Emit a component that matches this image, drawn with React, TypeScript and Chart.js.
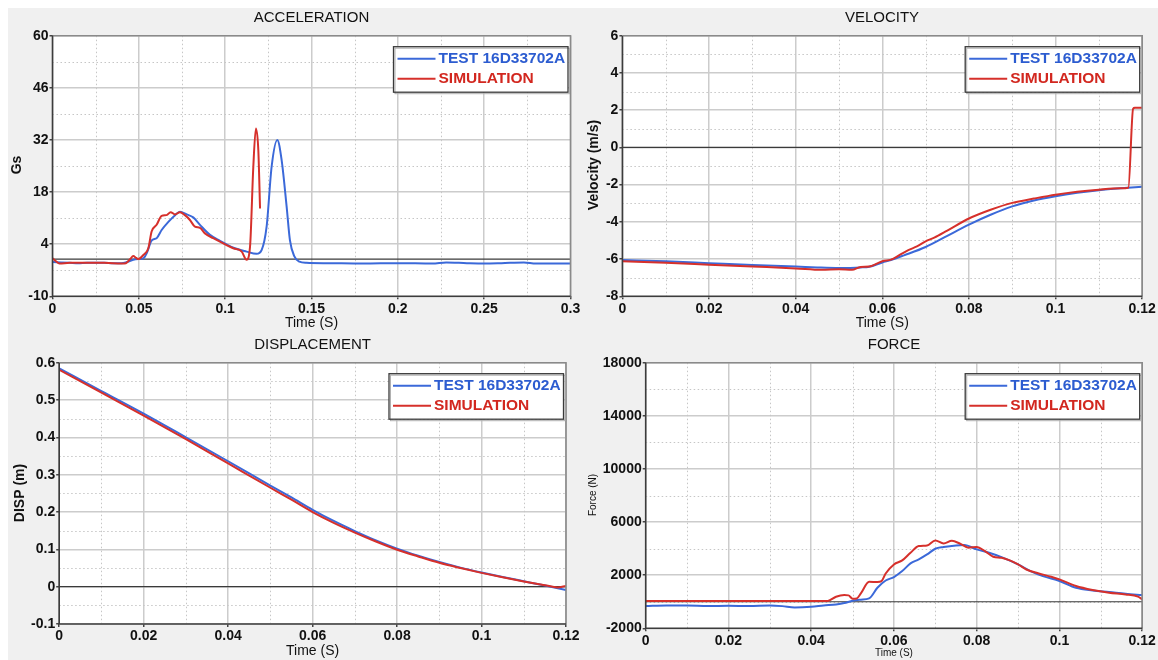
import React, { useEffect, useRef } from "react";
import { Chart, registerables } from "chart.js";

Chart.register(...registerables);

const FONT = '"Liberation Sans", Arial, Helvetica, sans-serif';
const BLUE = "#3b69d9";
const RED = "#d6302b";
const BLUE_TEXT = "#2c5cd0";
const RED_TEXT = "#d2271f";

const legendLabels = ["TEST 16D33702A", "SIMULATION"];

// ---------------- ACCELERATION ----------------
const accelTestT = [0, 0.005, 0.01, 0.015, 0.02, 0.025, 0.03, 0.035, 0.04, 0.043, 0.0468, 0.05, 0.0526, 0.0546, 0.0574, 0.0603, 0.0632, 0.0671, 0.071, 0.0738, 0.0777, 0.0815, 0.0854, 0.0912, 0.097, 0.1044, 0.1124, 0.1182, 0.1211, 0.124, 0.1269, 0.1302, 0.1327, 0.1356, 0.1375, 0.14, 0.143, 0.147, 0.16, 0.18, 0.2, 0.22, 0.228, 0.24, 0.25, 0.26, 0.273, 0.28, 0.3];
const accelTestG = [-0.8, -0.9, -1.0, -1.1, -1.0, -1.0, -1.0, -1.1, -1.1, -0.8, -0.2, 0.0, 0.2, 1.6, 5.0, 5.6, 7.8, 10.0, 11.8, 12.7, 12.0, 11.2, 9.2, 6.5, 4.9, 3.1, 2.0, 1.4, 2.4, 8.7, 24.8, 32.0, 26.6, 14.1, 5.1, 0.8, -0.7, -1.0, -1.1, -1.2, -1.1, -1.2, -0.9, -1.1, -1.2, -1.1, -0.9, -1.2, -1.2];
const accelSimT = [0, 0.002, 0.004, 0.01, 0.02, 0.03, 0.04, 0.0425, 0.045, 0.0468, 0.0485, 0.0497, 0.0526, 0.0555, 0.0574, 0.0603, 0.0632, 0.0661, 0.0684, 0.071, 0.0738, 0.0767, 0.0796, 0.0825, 0.0854, 0.0883, 0.0931, 0.0989, 0.1047, 0.1096, 0.1124, 0.1144, 0.1163, 0.1178, 0.1192, 0.1202];
const accelSimG = [0.2, -0.6, -1.2, -1.0, -1.0, -1.0, -1.2, -1.1, 0.0, 0.8, 0.3, 0.0, 1.1, 2.9, 7.4, 9.2, 11.6, 11.8, 12.6, 12.0, 12.6, 11.8, 10.5, 8.7, 8.4, 6.9, 5.6, 4.2, 2.9, 2.0, -0.2, 3.3, 24.8, 35.1, 29.3, 13.6];

// ---------------- VELOCITY ----------------
const velTestT = [0, 0.01, 0.02, 0.03, 0.04, 0.045, 0.05, 0.055, 0.057, 0.06, 0.062, 0.065, 0.07, 0.075, 0.08, 0.085, 0.09, 0.095, 0.1, 0.105, 0.11, 0.115, 0.12];
const velTestV = [-6.05, -6.12, -6.22, -6.32, -6.4, -6.45, -6.48, -6.45, -6.41, -6.18, -6.05, -5.8, -5.35, -4.75, -4.15, -3.62, -3.17, -2.85, -2.62, -2.44, -2.3, -2.2, -2.12];
const velSimT = [0, 0.01, 0.02, 0.03, 0.04, 0.046, 0.05, 0.053, 0.055, 0.057, 0.06, 0.062, 0.064, 0.066, 0.068, 0.07, 0.072, 0.075, 0.08, 0.085, 0.09, 0.095, 0.1, 0.105, 0.11, 0.115, 0.1168, 0.1179, 0.1183, 0.12];
const velSimV = [-6.12, -6.2, -6.3, -6.4, -6.5, -6.58, -6.55, -6.58, -6.42, -6.4, -6.12, -6.03, -5.78, -5.52, -5.32, -5.05, -4.85, -4.47, -3.82, -3.35, -2.98, -2.75, -2.54, -2.38, -2.27, -2.2, -2.17, 2.08, 2.13, 2.13];

// ---------------- DISPLACEMENT ----------------
const dispTestT = [0, 0.01, 0.02, 0.03, 0.04, 0.05, 0.055, 0.06, 0.065, 0.07, 0.075, 0.08, 0.085, 0.09, 0.095, 0.1, 0.105, 0.11, 0.115, 0.12];
const dispTestM = [0.585, 0.524, 0.4635, 0.4, 0.336, 0.271, 0.239, 0.206, 0.176, 0.149, 0.124, 0.102, 0.083, 0.066, 0.051, 0.038, 0.026, 0.0145, 0.003, -0.009];
const dispSimT = [0, 0.01, 0.02, 0.03, 0.04, 0.05, 0.055, 0.06, 0.065, 0.07, 0.075, 0.08, 0.085, 0.09, 0.095, 0.1, 0.105, 0.11, 0.115, 0.118, 0.12];
const dispSimM = [0.581, 0.52, 0.458, 0.395, 0.33, 0.265, 0.233, 0.2, 0.171, 0.145, 0.121, 0.099, 0.081, 0.064, 0.05, 0.037, 0.025, 0.014, 0.004, -0.002, 0.002];

// ---------------- FORCE ----------------
const forceTestT = [0, 0.005, 0.01, 0.015, 0.02, 0.025, 0.03, 0.033, 0.036, 0.04, 0.043, 0.046, 0.048, 0.05, 0.052, 0.054, 0.056, 0.058, 0.06, 0.062, 0.064, 0.066, 0.068, 0.07, 0.072, 0.075, 0.077, 0.08, 0.083, 0.086, 0.09, 0.093, 0.096, 0.1, 0.104, 0.108, 0.112, 0.116, 0.12];
const forceTestN = [-330, -280, -280, -330, -300, -330, -280, -330, -430, -380, -280, -200, -100, 75, 150, 250, 1050, 1600, 1860, 2310, 2890, 3190, 3560, 3990, 4120, 4240, 4270, 3940, 3690, 3360, 2810, 2310, 1930, 1560, 1050, 850, 730, 600, 500];
const forceSimT = [0, 0.044, 0.046, 0.048, 0.049, 0.05, 0.051, 0.052, 0.054, 0.056, 0.057, 0.058, 0.06, 0.062, 0.064, 0.066, 0.068, 0.07, 0.072, 0.074, 0.076, 0.078, 0.08, 0.082, 0.084, 0.086, 0.088, 0.09, 0.092, 0.095, 0.098, 0.1, 0.104, 0.108, 0.112, 0.116, 0.119, 0.12];
const forceSimN = [60, 60, 380, 500, 480, 230, 250, 630, 1500, 1480, 1550, 2130, 2810, 3110, 3690, 4190, 4240, 4620, 4390, 4590, 4370, 4070, 4120, 3810, 3390, 3310, 3110, 2810, 2430, 2130, 1880, 1680, 1180, 880, 680, 550, 380, 180];

type Panel = {
  title: string;
  titleX: number;
  titleY: number;
  xLabel: string;
  xLabelY: number;
  xLabelSize: number;
  yLabel: string;
  yLabelX: number;
  yLabelY: number;
  yLabelFont: string;
  plot: { l: number; r: number; t: number; b: number };
  xMin: number; xMax: number; xStep: number;
  yMin: number; yMax: number; yStep: number;
  testT: number[]; testV: number[];
  simT: number[]; simV: number[];
};

const panels: Panel[] = [
  {
    title: "ACCELERATION", titleX: 311.5, titleY: 18,
    xLabel: "Time (S)", xLabelY: 323, xLabelSize: 14,
    yLabel: "Gs", yLabelX: 17, yLabelY: 165, yLabelFont: `bold 14px ${FONT}`,
    plot: { l: 52.5, r: 570.5, t: 35.7, b: 296.3 },
    xMin: 0, xMax: 0.3, xStep: 0.05, yMin: -10, yMax: 60, yStep: 14,
    testT: accelTestT, testV: accelTestG, simT: accelSimT, simV: accelSimG,
  },
  {
    title: "VELOCITY", titleX: 882, titleY: 18,
    xLabel: "Time (S)", xLabelY: 323, xLabelSize: 14,
    yLabel: "Velocity (m/s)", yLabelX: 594.6, yLabelY: 165, yLabelFont: `bold 14px ${FONT}`,
    plot: { l: 622.4, r: 1142.2, t: 35.7, b: 296.3 },
    xMin: 0, xMax: 0.12, xStep: 0.02, yMin: -8, yMax: 6, yStep: 2,
    testT: velTestT, testV: velTestV, simT: velSimT, simV: velSimV,
  },
  {
    title: "DISPLACEMENT", titleX: 312.6, titleY: 345,
    xLabel: "Time (S)", xLabelY: 651.5, xLabelSize: 14,
    yLabel: "DISP (m)", yLabelX: 20, yLabelY: 493, yLabelFont: `bold 14px ${FONT}`,
    plot: { l: 59.2, r: 566, t: 362.7, b: 624 },
    xMin: 0, xMax: 0.12, xStep: 0.02, yMin: -0.1, yMax: 0.6, yStep: 0.1,
    testT: dispTestT, testV: dispTestM, simT: dispSimT, simV: dispSimM,
  },
  {
    title: "FORCE", titleX: 894, titleY: 345,
    xLabel: "Time (S)", xLabelY: 653, xLabelSize: 10,
    yLabel: "Force (N)", yLabelX: 593, yLabelY: 495, yLabelFont: `10px ${FONT}`,
    plot: { l: 645.7, r: 1142.2, t: 362.7, b: 628.3 },
    xMin: 0, xMax: 0.12, xStep: 0.02, yMin: -2000, yMax: 18000, yStep: 4000,
    testT: forceTestT, testV: forceTestN, simT: forceSimT, simV: forceSimN,
  },
];

const W = 1158;
const H = 660;
const Y_AXIS_W = 44;
const X_AXIS_H = 22;

function fmt(v: number | string) {
  const n = Number(v);
  return String(parseFloat(n.toFixed(6)));
}

function decoPlugin(p: Panel) {
  return {
    id: "deco",
    beforeDraw(chart: any) {
      const { ctx, chartArea: a } = chart;
      ctx.save();
      ctx.fillStyle = "#ffffff";
      ctx.fillRect(a.left, a.top, a.right - a.left, a.bottom - a.top);
      ctx.restore();
    },
    beforeDatasetsDraw(chart: any) {
      const { ctx, chartArea: a } = chart;
      const xs = chart.scales.x;
      const ys = chart.scales.y;
      ctx.save();
      ctx.strokeStyle = "#c6c6c6";
      ctx.lineWidth = 1;
      ctx.setLineDash([1.5, 2.5]);
      const xMinor = p.xStep / 2;
      const nx = Math.round((p.xMax - p.xMin) / xMinor);
      for (let i = 1; i < nx; i += 2) {
        const px = Math.round(xs.getPixelForValue(p.xMin + i * xMinor)) + 0.5;
        ctx.beginPath();
        ctx.moveTo(px, a.top);
        ctx.lineTo(px, a.bottom);
        ctx.stroke();
      }
      const yMinor = p.yStep / 2;
      const ny = Math.round((p.yMax - p.yMin) / yMinor);
      for (let i = 1; i < ny; i += 2) {
        const py = Math.round(ys.getPixelForValue(p.yMin + i * yMinor)) + 0.5;
        ctx.beginPath();
        ctx.moveTo(a.left, py);
        ctx.lineTo(a.right, py);
        ctx.stroke();
      }
      ctx.setLineDash([]);
      // zero line
      const zy = ys.getPixelForValue(0);
      ctx.strokeStyle = "#3a3a3a";
      ctx.lineWidth = 1.2;
      ctx.beginPath();
      ctx.moveTo(a.left, zy);
      ctx.lineTo(a.right, zy);
      ctx.stroke();
      ctx.restore();
    },
    afterDraw(chart: any) {
      const { ctx, chartArea: a } = chart;
      ctx.save();
      // plot border
      ctx.lineWidth = 1.6;
      ctx.strokeStyle = "#8a8a8a";
      ctx.beginPath();
      ctx.moveTo(a.left, a.top);
      ctx.lineTo(a.right, a.top);
      ctx.lineTo(a.right, a.bottom);
      ctx.stroke();
      ctx.strokeStyle = "#3c3c3c";
      ctx.beginPath();
      ctx.moveTo(a.left, a.top);
      ctx.lineTo(a.left, a.bottom);
      ctx.lineTo(a.right, a.bottom);
      ctx.stroke();

      // legend
      const bw = 174.5;
      const bh = 45.5;
      const bx = a.right - 2.5 - bw;
      const by = a.top + 11;
      ctx.fillStyle = "#ffffff";
      ctx.fillRect(bx, by, bw, bh);
      ctx.strokeStyle = "#b0b0b0";
      ctx.lineWidth = 1;
      ctx.strokeRect(bx + 1.5, by + 1.5, bw, bh);
      ctx.strokeStyle = "#3a3a3a";
      ctx.lineWidth = 1.3;
      ctx.strokeRect(bx, by, bw, bh);
      const rows = [
        { c: BLUE, tc: BLUE_TEXT, y: by + 12 },
        { c: RED, tc: RED_TEXT, y: by + 32 },
      ];
      rows.forEach((r, i) => {
        ctx.strokeStyle = r.c;
        ctx.lineWidth = 2;
        ctx.beginPath();
        ctx.moveTo(bx + 4, r.y);
        ctx.lineTo(bx + 42, r.y);
        ctx.stroke();
        ctx.fillStyle = r.tc;
        ctx.font = `bold 15.5px ${FONT}`;
        ctx.textAlign = "left";
        ctx.textBaseline = "middle";
        ctx.fillText(legendLabels[i], bx + 45, r.y + 0.5);
      });

      // title
      ctx.fillStyle = "#111111";
      ctx.font = `15px ${FONT}`;
      ctx.textAlign = "center";
      ctx.textBaseline = "middle";
      ctx.fillText(p.title, p.titleX, p.titleY);
      // x label
      ctx.font = `${p.xLabelSize}px ${FONT}`;
      ctx.fillText(p.xLabel, (a.left + a.right) / 2, p.xLabelY);
      // y label
      ctx.save();
      ctx.translate(p.yLabelX, p.yLabelY);
      ctx.rotate(-Math.PI / 2);
      ctx.font = p.yLabelFont;
      ctx.fillText(p.yLabel, 0, 0);
      ctx.restore();
      ctx.restore();
    },
  };
}

function fitX(s: any) {
  s.height = X_AXIS_H;
  s.paddingLeft = 0;
  s.paddingRight = 0;
  s.paddingTop = 0;
  s.paddingBottom = 0;
}
function fitY(s: any) {
  s.width = Y_AXIS_W;
  s.paddingLeft = 0;
  s.paddingRight = 0;
  s.paddingTop = 0;
  s.paddingBottom = 0;
}

function PanelChart({ p }: { p: Panel }) {
  const ref = useRef<HTMLCanvasElement | null>(null);
  useEffect(() => {
    if (!ref.current) return;
    const tickFont = { family: FONT, size: 14, weight: "bold" as const };
    const chart = new Chart(ref.current, {
      type: "line",
      data: {
        datasets: [
          {
            label: legendLabels[1],
            data: p.simT.map((t, i) => ({ x: t, y: p.simV[i] })),
            borderColor: RED,
            borderWidth: 2,
            pointRadius: 0,
            cubicInterpolationMode: "monotone",
            fill: false,
          },
          {
            label: legendLabels[0],
            data: p.testT.map((t, i) => ({ x: t, y: p.testV[i] })),
            borderColor: BLUE,
            borderWidth: 2,
            pointRadius: 0,
            cubicInterpolationMode: "monotone",
            fill: false,
          },
        ],
      },
      options: {
        responsive: false,
        animation: false,
        devicePixelRatio: 1,
        events: [],
        layout: {
          padding: {
            left: p.plot.l - Y_AXIS_W,
            top: p.plot.t,
            right: W - p.plot.r,
            bottom: H - p.plot.b - X_AXIS_H,
          },
        },
        plugins: {
          legend: { display: false },
          title: { display: false },
          tooltip: { enabled: false },
        },
        scales: {
          x: {
            type: "linear",
            min: p.xMin,
            max: p.xMax,
            afterFit: fitX,
            ticks: {
              stepSize: p.xStep,
              callback: (v: any) => fmt(v),
              font: tickFont,
              color: "#111111",
              padding: 1,
              maxRotation: 0,
              minRotation: 0,
              autoSkip: false,
            },
            grid: { color: "#cccccc", lineWidth: 1.5, tickLength: 3, tickColor: "#444444", drawTicks: true },
            border: { display: false },
          },
          y: {
            type: "linear",
            min: p.yMin,
            max: p.yMax,
            afterFit: fitY,
            ticks: {
              stepSize: p.yStep,
              callback: (v: any) => fmt(v),
              font: tickFont,
              color: "#111111",
              padding: 1,
              autoSkip: false,
            },
            grid: { color: "#cccccc", lineWidth: 1.5, tickLength: 3, tickColor: "#444444", drawTicks: true },
            border: { display: false },
          },
        },
      },
      plugins: [decoPlugin(p)],
    } as any);
    return () => chart.destroy();
  }, [p]);
  return (
    <canvas
      ref={ref}
      width={W}
      height={H}
      style={{ position: "absolute", left: 0, top: 0, width: W, height: H }}
    />
  );
}

export default function App() {
  return (
    <div style={{ position: "fixed", left: 0, top: 0, width: W, height: H, background: "#ffffff", overflow: "hidden" }}>
      <div style={{ position: "absolute", left: 8, top: 8, width: W - 8, height: H - 8, background: "#f0f0f0" }} />
      {panels.map((p) => (
        <PanelChart key={p.title} p={p} />
      ))}
    </div>
  );
}
